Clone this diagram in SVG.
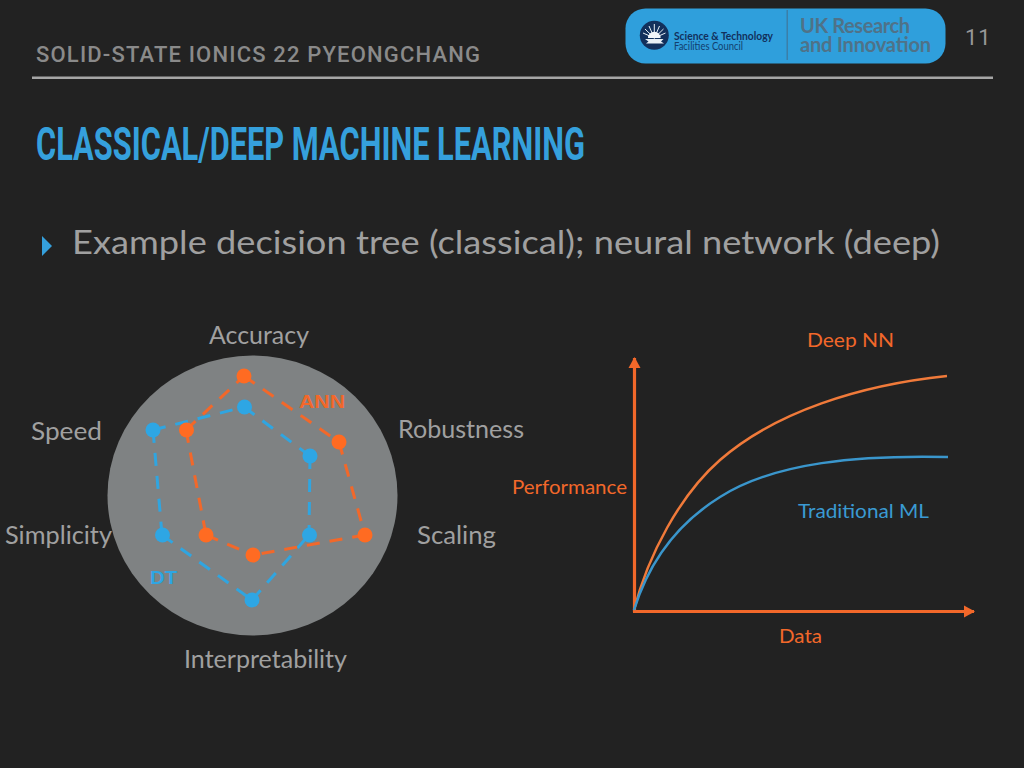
<svg xmlns="http://www.w3.org/2000/svg" width="1024" height="768" viewBox="0 0 1024 768">
<style>
text{font-family:"Lato","Noto Sans","Liberation Sans",sans-serif}
.gray{fill:#a0a0a0;font-size:24.500px}
.or{fill:#f2682a;font-size:20px}
.blu{fill:#3a9ad2;font-size:20px}
.dor{fill:none;stroke:#f2682a;stroke-width:3;stroke-dasharray:13 10}
.dbl{fill:none;stroke:#30a5e0;stroke-width:3;stroke-dasharray:13 10}
.po{fill:#ff6b22}.pb{fill:#2ea6e4}
.axis{stroke:#f2682a;stroke-width:3.200;fill:none}
.ray{stroke:#e8f0f6;stroke-width:1}
</style>
<defs>
<marker id="ah" markerUnits="userSpaceOnUse" markerWidth="14" markerHeight="14" refX="10" refY="7" orient="auto"><path d="M0,1L11,7L0,13Z" fill="#f2682a"/></marker>
</defs>
<rect width="1024" height="768" fill="#222222"/>
<g id="header">
<text x="36" y="62" textLength="444" style="font-family:'Roboto','DejaVu Sans',sans-serif;font-size:22px;font-weight:500;fill:#8a8a8a">SOLID-STATE IONICS 22 PYEONGCHANG</text>
<rect x="32" y="76.500" width="961" height="2.500" fill="#a6a6a6"/>
<text x="965" y="45" style="font-family:'Roboto',sans-serif;font-size:22px;letter-spacing:1px;fill:#989898">11</text>
</g>
<g id="logo">
<rect x="625.500" y="8.500" width="320" height="55" rx="20" fill="#2f9fdc"/>
<circle cx="654.300" cy="35.300" r="14.500" fill="#12305c"/>
<path class="ray" d="M654.300,38L654.300,24M654.300,38L649,26M654.300,38L659.500,26M654.300,38L645,29M654.300,38L663.500,29M654.300,38L643,33M654.300,38L665.500,33"/>
<path d="M648,38A6.300,6.300,0,0,1,660.600,38Z" fill="#f2f6fa"/>
<path d="M645,39H663.500L661,41.500L664,43.500H646L648.500,41.500Z" fill="#e8f0f6"/>
<text x="674" y="39.500" textLength="99" lengthAdjust="spacingAndGlyphs" style="font-size:11px;font-weight:700;fill:#12305c">Science &amp; Technology</text>
<text x="674" y="50" textLength="69" lengthAdjust="spacingAndGlyphs" style="font-size:11px;fill:#12406e">Facilities Council</text>
<rect x="786.500" y="10" width="1.500" height="50" fill="#3b7fa8"/>
<text style="font-size:20px;font-weight:700;fill:#4f7288"><tspan x="800" y="33" textLength="110">UK Research</tspan><tspan x="800" y="52" textLength="131">and Innovation</tspan></text>
</g>
<text id="title" x="36" y="160" textLength="549" lengthAdjust="spacingAndGlyphs" style="font-family:'Roboto',sans-serif;font-size:47px;font-weight:700;fill:#35a0dc">CLASSICAL/DEEP MACHINE LEARNING</text>
<g id="bullet">
<path d="M42,236L52,246L42,256Z" fill="#35a0dc"/>
<text x="72" y="254" textLength="868" lengthAdjust="spacingAndGlyphs" style="font-size:33px;fill:#a0a0a0">Example decision tree (classical); neural network (deep)</text>
</g>
<g id="radar">
<ellipse cx="252.500" cy="495.500" rx="145" ry="140" fill="#7f8283"/>
<text class="gray" x="209" y="344" textLength="100" lengthAdjust="spacingAndGlyphs">Accuracy</text>
<text class="gray" x="398" y="437.500" textLength="126" lengthAdjust="spacingAndGlyphs">Robustness</text>
<text class="gray" x="417" y="543.500" textLength="79" lengthAdjust="spacingAndGlyphs">Scaling</text>
<text class="gray" x="184" y="668" textLength="163" lengthAdjust="spacingAndGlyphs">Interpretability</text>
<text class="gray" x="5" y="543.500" textLength="107" lengthAdjust="spacingAndGlyphs">Simplicity</text>
<text class="gray" x="31" y="439.500" textLength="71" lengthAdjust="spacingAndGlyphs">Speed</text>
<g id="connectors">
<path class="dbl" d="M153,430L244,407"/><path class="dbl" d="M244,407L310,456"/><path class="dbl" d="M310,456L309,535"/><path class="dbl" d="M252,600L309,535"/><path class="dbl" d="M162,535L252,600"/><path class="dbl" d="M153,430L162,535"/>
<path class="dor" d="M186,430L244,376"/><path class="dor" d="M244,376L339,442"/><path class="dor" d="M339,442L365,535"/><path class="dor" d="M365,535L253,555"/><path class="dor" d="M206,535L253,555"/><path class="dor" d="M186,430L206,535"/>
</g>
<g id="ann-points">
<circle class="po" cx="244" cy="376" r="7.500"/><circle class="po" cx="339" cy="442" r="7.500"/><circle class="po" cx="365" cy="535" r="7.500"/><circle class="po" cx="253" cy="555" r="7.500"/><circle class="po" cx="206" cy="535" r="7.500"/><circle class="po" cx="186.500" cy="430" r="7.500"/>
</g>
<g id="dt-points">
<circle class="pb" cx="153" cy="430" r="7.500"/><circle class="pb" cx="244.500" cy="407" r="7.500"/><circle class="pb" cx="310" cy="456" r="7.500"/><circle class="pb" cx="309.500" cy="535" r="7.500"/><circle class="pb" cx="252" cy="600" r="7.500"/><circle class="pb" cx="162.500" cy="535" r="7.500"/>
</g>
<text x="299" y="408" textLength="46" lengthAdjust="spacingAndGlyphs" style="font-family:'Liberation Sans',sans-serif;font-size:19px;font-weight:700;fill:#f2682a">ANN</text>
<text x="150" y="584" textLength="27" lengthAdjust="spacingAndGlyphs" style="font-family:'Liberation Sans',sans-serif;font-size:19px;font-weight:700;fill:#2ea6e4">DT</text>
</g>
<g id="chart">
<g id="axes">
<path class="axis" d="M634.500,612V358" marker-end="url(#ah)"/>
<path class="axis" d="M633,611.500H974" marker-end="url(#ah)"/>
</g>
<path d="M634,610C648,555 680,495 720,460C775,412 860,385 947,376" fill="none" stroke="#f07a3a" stroke-width="2.500"/>
<path d="M634,610C648,565 675,525 720,497C775,462 860,455 948,457" fill="none" stroke="#3a96cc" stroke-width="2.500"/>
<text class="or" x="807" y="347" textLength="87" lengthAdjust="spacingAndGlyphs">Deep NN</text>
<text class="or" x="512" y="494" textLength="115" lengthAdjust="spacingAndGlyphs">Performance</text>
<text class="blu" x="798" y="518" textLength="131" lengthAdjust="spacingAndGlyphs">Traditional ML</text>
<text class="or" x="779" y="643" textLength="43" lengthAdjust="spacingAndGlyphs">Data</text>
</g>
</svg>
